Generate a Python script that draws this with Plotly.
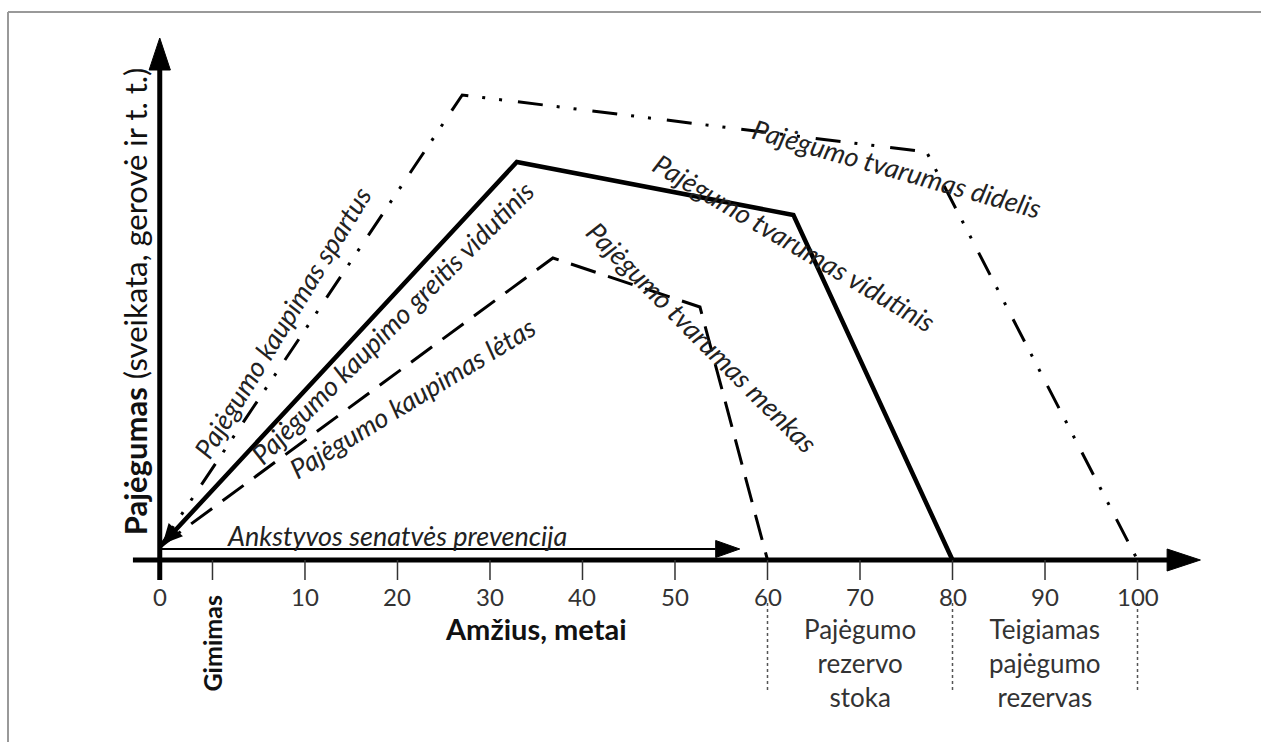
# Pajėgumo kaupimo ir tvarumo schema
import plotly.graph_objects as go

# ----------------------------------------------------------------------------------------------------------------------
# Data
# ----------------------------------------------------------------------------------------------------------------------
origin_age = -5.7          # where the axes cross (labelled "0")
origin_val = 2.6

rapid_age = [origin_age, 27.0, 77.2, 100]
rapid_val = [origin_val, 93.0, 81.6, 0]

medium_age = [origin_age, 32.9, 62.8, 80]
medium_val = [origin_val, 79.6, 69.0, 0]

slow_age = [origin_age, 36.8, 52.7, 60]
slow_val = [origin_val, 60.4, 50.6, 0]

tick_ages = [0, 10, 20, 30, 40, 50, 60, 70, 80, 90, 100]
label_ages = [origin_age, 10, 20, 30, 40, 50, 60, 70, 80, 90, 100]
label_text = ["0", "10", "20", "30", "40", "50", "60", "70", "80", "90", "100"]

reserve_ages = [60, 80, 100]
reserve_text = ["Pajėgumo<br>rezervo<br>stoka", "Teigiamas<br>pajėgumo<br>rezervas"]
reserve_centers = [70, 90]

prevention_end = 57.0

# ----------------------------------------------------------------------------------------------------------------------
# Figure
# ----------------------------------------------------------------------------------------------------------------------
FONT = "Lato"
TXT = "#222222"
fig = go.Figure()

# axes lines
fig.add_trace(go.Scatter(x=[-8.6, 103.5], y=[0, 0], mode="lines", line=dict(color="black", width=5),
                         hoverinfo="skip"))
fig.add_trace(go.Scatter(x=[origin_age, origin_age], y=[-4.0, 98.5], mode="lines",
                         line=dict(color="black", width=5), hoverinfo="skip"))
# arrow heads
fig.add_trace(go.Scatter(x=[103.2, 106.8, 103.2, 103.2], y=[-2.2, 0, 2.2, -2.2], mode="lines", fill="toself",
                         fillcolor="black", line=dict(color="black", width=1), hoverinfo="skip"))
fig.add_trace(go.Scatter(x=[origin_age - 1.15, origin_age, origin_age + 1.15, origin_age - 1.15],
                         y=[98.0, 104.4, 98.0, 98.0], mode="lines", fill="toself",
                         fillcolor="black", line=dict(color="black", width=1), hoverinfo="skip"))

# ticks
tx, ty = [], []
for a in tick_ages:
    tx += [a, a, None]
    ty += [0, -4.0, None]
fig.add_trace(go.Scatter(x=tx, y=ty, mode="lines", line=dict(color="#333333", width=1.5), hoverinfo="skip"))

# dotted reserve separators
dx, dy = [], []
for a in reserve_ages:
    dx += [a, a, None]
    dy += [-8.6, -26.6, None]
fig.add_trace(go.Scatter(x=dx, y=dy, mode="lines", line=dict(color="#555555", width=1.5, dash="dot"),
                         hoverinfo="skip"))

# prevention arrow
fig.add_trace(go.Scatter(x=[origin_age, prevention_end - 2.6], y=[2.2, 2.2], mode="lines",
                         line=dict(color="black", width=2), hoverinfo="skip"))
fig.add_trace(go.Scatter(x=[prevention_end - 2.6, prevention_end, prevention_end - 2.6, prevention_end - 2.6],
                         y=[0.5, 2.2, 3.9, 0.5], mode="lines", fill="toself", fillcolor="black",
                         line=dict(color="black", width=1), hoverinfo="skip"))

# curves
fig.add_trace(go.Scatter(x=rapid_age, y=rapid_val, mode="lines",
                         line=dict(color="black", width=3, dash="25px,14px,3px,14px,3px,16px")))
fig.add_trace(go.Scatter(x=medium_age, y=medium_val, mode="lines", line=dict(color="black", width=4.5)))
fig.add_trace(go.Scatter(x=slow_age, y=slow_val, mode="lines",
                         line=dict(color="black", width=3, dash="26px,13px")))

# ----------------------------------------------------------------------------------------------------------------------
# Texts
# ----------------------------------------------------------------------------------------------------------------------
ann = []
for a, t in zip(label_ages, label_text):
    ann.append(dict(x=a, y=-7.2, text=t, font=dict(size=24, color="#333333")))
ann.append(dict(x=0, y=-16.6, text="<b>Gimimas</b>", textangle=-90, font=dict(size=25, color="#111111")))
ann.append(dict(x=35, y=-13.6, text="<b>Amžius, metai</b>", font=dict(size=29, color="#111111")))
ann.append(dict(x=-8.4, y=51.7, text="<b>Pajėgumas</b> (sveikata, gerovė ir t. t.)", textangle=-90,
                font=dict(size=31, color="#111111")))
for c, t in zip(reserve_centers, reserve_text):
    ann.append(dict(x=c, y=-20.6, text=t, font=dict(size=26, color="#333333")))
ann.append(dict(x=20.0, y=5.0, text="<i>Ankstyvos senatvės prevencija</i>", font=dict(size=27, color=TXT)))

curve_labels = [
    ("Pajėgumo kaupimas spartus", 7.5, 47.6, -58.5),
    ("Pajėgumo kaupimo greitis vidutinis", 19.4, 47.6, -45),
    ("Pajėgumo kaupimas lėtas", 21.6, 32.6, -31.4),
    ("Pajėgumo tvarumas didelis", 74.0, 78.4, 15.7),
    ("Pajėgumo tvarumas vidutinis", 62.9, 63.6, 30.5),
    ("Pajėgumo tvarumas menkas", 53.0, 44.6, 45),
]
for t, x, y, ang in curve_labels:
    ann.append(dict(x=x, y=y, text=f"<i>{t}</i>", textangle=ang, font=dict(size=27, color=TXT)))

for a in ann:
    a.update(xref="x", yref="y", showarrow=False)

# small arrow tip of the medium curve at the origin
slope = (medium_val[1] - medium_val[0]) / (medium_age[1] - medium_age[0])
ann.append(dict(x=origin_age + 0.3, y=origin_val + 0.3 * slope, ax=origin_age + 3.0, ay=origin_val + 3.0 * slope,
                xref="x", yref="y", axref="x", ayref="y", showarrow=True, arrowhead=2, arrowsize=1.3,
                arrowwidth=3, arrowcolor="black", text=""))

# frame
shapes = [
    dict(type="line", xref="paper", yref="paper", x0=8 / 1261, x1=8 / 1261, y0=0, y1=1 - 12 / 742,
         line=dict(color="#999999", width=2)),
    dict(type="line", xref="paper", yref="paper", x0=8 / 1261, x1=1, y0=1 - 12 / 742, y1=1 - 12 / 742,
         line=dict(color="#999999", width=2)),
]

fig.update_layout(width=1261, height=742, margin=dict(l=0, r=0, t=0, b=0), showlegend=False,
                  plot_bgcolor="white", paper_bgcolor="white", annotations=ann, shapes=shapes,
                  font=dict(family=FONT, color=TXT))
fig.update_xaxes(visible=False, range=[-22.97, 113.35])
fig.update_yaxes(visible=False, range=[-36.4, 112])

fig.write_html("out.html", config={"displayModeBar": False},
               post_script="document.body.style.margin='0';")
